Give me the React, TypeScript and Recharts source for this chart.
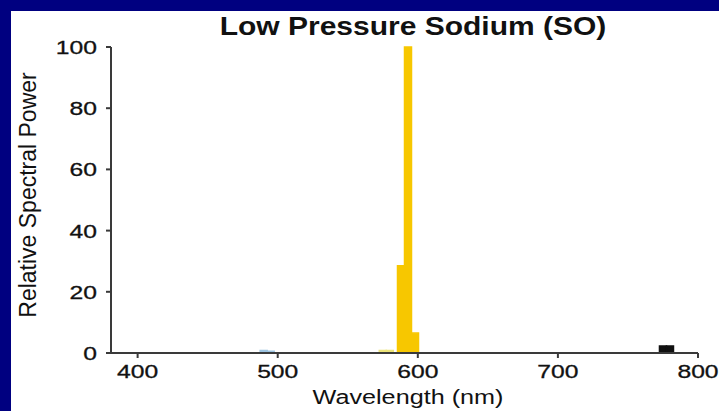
import { Bar, Cell, ComposedChart, Label, XAxis, YAxis } from "recharts";

// spectral bins (nm) and their relative power
const wavelengths = [490, 495, 575, 580, 588, 593, 598, 775, 780];
const power = [0.8, 0.6, 0.8, 0.8, 28.5, 100, 6.5, 2.3, 2.3];

const xTicks = [400, 500, 600, 700, 800];
const yTicks = [0, 20, 40, 60, 80, 100];

const title = "Low Pressure Sodium (SO)";
const xTitle = "Wavelength (nm)";
const yTitle = "Relative Spectral Power";

const data = wavelengths.map((nm, i) => ({ nm, power: power[i] }));

const FONT = "'Liberation Sans', Arial, sans-serif";
const INK = "#111111";
const AXIS = "#3a3a3a";

function binColor(nm: number) {
  if (nm < 520) return "#9cc3e0";
  if (nm < 584) return "#ece47a";
  if (nm < 650) return "#f7c700";
  return "#111111";
}

function XTick({ x, y, payload }: any) {
  return (
    <g transform={`translate(${x},${y})`}>
      <text
        x={0}
        y={0}
        dy={18}
        textAnchor="middle"
        transform="scale(1.3,1)"
        fontFamily={FONT}
        fontSize={19}
        fill={INK}
        stroke={INK}
        strokeWidth={0.3}
      >
        {payload.value}
      </text>
    </g>
  );
}

function YTick({ x, y, payload }: any) {
  return (
    <g transform={`translate(${x},${y})`}>
      <text
        x={0}
        y={0}
        dy={7}
        textAnchor="end"
        transform="scale(1.3,1)"
        fontFamily={FONT}
        fontSize={19}
        fill={INK}
        stroke={INK}
        strokeWidth={0.3}
      >
        {payload.value}
      </text>
    </g>
  );
}

function XTitle({ viewBox }: any) {
  const cx = 397;
  const by = viewBox.y + 51;
  return (
    <g transform={`translate(${cx},${by})`}>
      <text x={0} y={0} textAnchor="middle" transform="scale(1.2,1)" fontFamily={FONT} fontSize={21} fill={INK}>
        {xTitle}
      </text>
    </g>
  );
}

function YTitle({ viewBox }: any) {
  const cx = 17;
  const cy = viewBox.y + viewBox.height / 2 - 5;
  return (
    <g transform={`translate(${cx},${cy}) rotate(-90)`}>
      <text x={0} y={0} dy={8} textAnchor="middle" fontFamily={FONT} fontSize={23} fill={INK}>
        {yTitle}
      </text>
    </g>
  );
}

export default function App() {
  return (
    <div style={{ position: "absolute", left: 0, top: 0, width: 719, height: 411, background: "#000080" }}>
      <div style={{ position: "absolute", left: 11, top: 11, width: 708, height: 400, background: "#ffffff" }}>
        <ComposedChart width={708} height={400} data={data} margin={{ top: 36, right: 21, left: 0, bottom: 0 }}>
          <XAxis
            dataKey="nm"
            type="number"
            domain={[381, 800]}
            ticks={xTicks}
            tick={<XTick />}
            tickSize={5}
            tickMargin={2}
            height={58}
            stroke={AXIS}
            strokeWidth={2}
          >
            <Label content={<XTitle />} />
          </XAxis>
          <YAxis
            type="number"
            domain={[0, 100]}
            ticks={yTicks}
            tick={<YTick />}
            tickSize={5}
            tickMargin={9}
            width={100}
            stroke={AXIS}
            strokeWidth={2}
          >
            <Label content={<YTitle />} />
          </YAxis>
          <Bar dataKey="power" barSize={7} isAnimationActive={false}>
            {data.map((d) => (
              <Cell key={d.nm} fill={binColor(d.nm)} stroke={binColor(d.nm)} strokeWidth={1.5} />
            ))}
          </Bar>
        </ComposedChart>
      </div>
      <div
        style={{
          position: "absolute",
          left: 413,
          top: 14,
          transform: "translateX(-50%) scaleX(1.2)",
          fontFamily: FONT,
          fontWeight: 700,
          fontSize: 25,
          lineHeight: "25px",
          color: INK,
          whiteSpace: "nowrap",
        }}
      >
        {title}
      </div>
    </div>
  );
}
